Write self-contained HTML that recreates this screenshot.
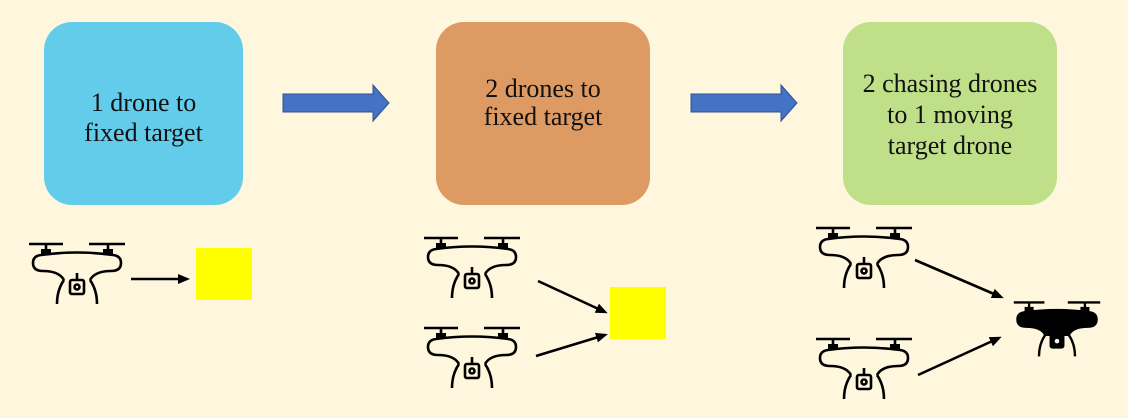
<!DOCTYPE html><html><head><style>
body{margin:0;background:#FEF7DE;}
.b{position:absolute;border-radius:28px;display:flex;align-items:center;justify-content:center;text-align:center;font:26px/31px "Liberation Serif",serif;color:#111;box-sizing:border-box}
</style></head><body>
<div style="position:relative;width:1128px;height:418px;overflow:hidden">
<div class="b" style="left:44px;top:22px;width:199px;height:183px;background:#63CCEA;padding-top:8px;line-height:30px">1 drone to<br>fixed target</div>
<div class="b" style="left:436px;top:22px;width:214px;height:183px;background:#DD9A62;align-items:flex-start;padding-top:53px;line-height:28px">2 drones to<br>fixed target</div>
<div class="b" style="left:843px;top:22px;width:214px;height:183px;background:#BFDF88;padding-top:2px">2 chasing drones<br>to 1 moving<br>target drone</div>
<svg width="1128" height="418" style="position:absolute;left:0;top:0">
<defs>
<g id="d" fill="none" stroke="#000" stroke-width="2.6">
<path d="M2 6H36M62 6H98M19 6V12M81 6V12"/>
<rect x="14" y="11" width="10" height="6" fill="#000" stroke="none"/><rect x="76" y="11" width="10" height="6" fill="#000" stroke="none"/>
<path d="M14 17 Q50 12 86 17 Q94 18 94 25 Q94 33 84 33 Q68 33 63 42 M14 17 Q6 18 6 25 Q6 33 16 33 Q32 33 37 42"/>
<path d="M37 42 Q30 52 30 66 M63 42 Q70 52 70 66"/>
<path d="M50 35V42"/><rect x="43" y="42" width="14" height="14" rx="2"/><circle cx="50" cy="49" r="2.5"/>
</g>
<g id="k" stroke="#000" stroke-width="2.6">
<path d="M2 6H36M62 6H98M19 6V12M81 6V12" fill="none"/>
<rect x="14" y="11" width="10" height="6" fill="#000" stroke="none"/><rect x="76" y="11" width="10" height="6" fill="#000" stroke="none"/>
<path d="M14 17 Q50 12 86 17 Q94 18 94 25 Q94 33 84 33 Q68 33 63 42 L37 42 Q32 33 16 33 Q6 33 6 25 Q6 18 14 17Z" fill="#000"/>
<path d="M37 42 Q30 52 30 66 M63 42 Q70 52 70 66" fill="none"/>
<rect x="43" y="40" width="14" height="16" rx="2" fill="#000"/><circle cx="50" cy="49" r="2.5" fill="#fff" stroke="none"/>
</g>
<marker id="a" markerWidth="12" markerHeight="10" refX="9" refY="5" orient="auto" markerUnits="userSpaceOnUse"><path d="M0 0L12 5L0 10Z" fill="#000"/></marker>
</defs>
<use href="#d" transform="translate(27,238)"/>
<use href="#d" transform="translate(422,232)"/>
<use href="#d" transform="translate(422,322)"/>
<use href="#d" transform="translate(814,222)"/>
<use href="#d" transform="translate(814,333)"/>
<use href="#k" transform="translate(1012,297) scale(0.9)"/>
<rect x="196" y="248" width="56" height="52" fill="#FFFF00"/>
<rect x="610" y="287" width="56" height="52" fill="#FFFF00"/>
<g stroke="#000" stroke-width="2.6" marker-end="url(#a)">
<line x1="131" y1="279" x2="187" y2="279"/>
<line x1="538" y1="281" x2="605" y2="312"/>
<line x1="536" y1="356" x2="605" y2="335"/>
<line x1="915" y1="260" x2="1001" y2="297"/>
<line x1="918" y1="375" x2="999" y2="338"/>
</g>
<path d="M283 94H373V85L389 103L373 121V112H283Z" fill="#4472C4" stroke="#2F528F" stroke-width="1"/>
<path d="M691 94H781V85L797 103L781 121V112H691Z" fill="#4472C4" stroke="#2F528F" stroke-width="1"/>
</svg></div></body></html>
